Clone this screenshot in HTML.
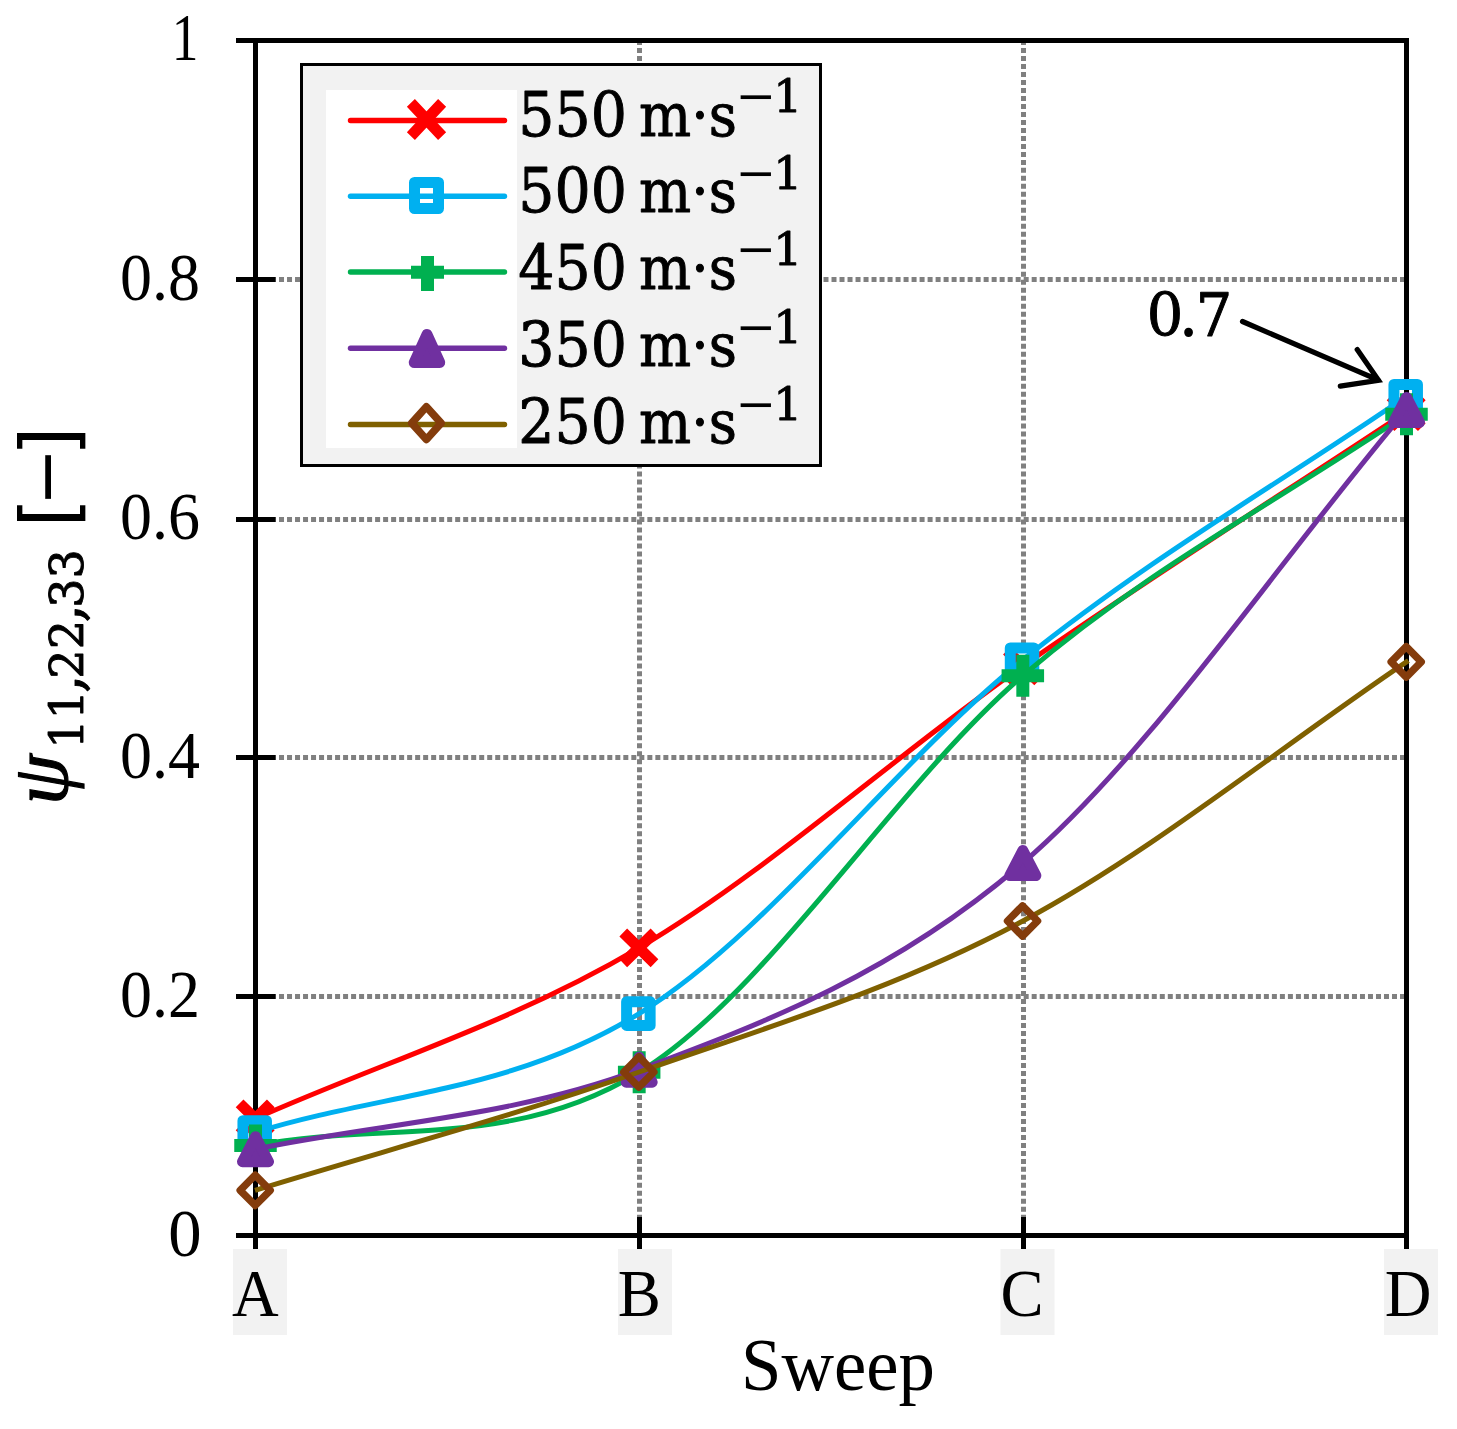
<!DOCTYPE html>
<html lang="en"><head><meta charset="utf-8"><title>Sweep chart</title>
<style>html,body{margin:0;padding:0;background:#fff}svg{display:block}</style></head><body>
<svg width="1457" height="1429" viewBox="0 0 1457 1429">
<rect width="1457" height="1429" fill="#fff"/>
<path d="M255,996.5H1406M255,757.5H1406M255,519.5H1406M255,279.5H1406" stroke="#808080" stroke-width="5" stroke-dasharray="5 3.007" fill="none"/>
<path d="M639.5,40V1235M1023.5,40V1235" stroke="#808080" stroke-width="5" stroke-dasharray="5 2.992" fill="none"/>
<path d="M236,40.5H1409M236,1235.5H1409M255.5,38V1255M1406.5,38V1255M236,996.5H275.5M236,757.5H275.5M236,519.5H275.5M236,279.5H275.5M639.5,1217V1255M1023.5,1217V1255" stroke="#000" stroke-width="5" fill="none"/>
<rect x="233" y="1249" width="54" height="86" fill="#F2F2F2"/>
<rect x="618" y="1249" width="54" height="86" fill="#F2F2F2"/>
<rect x="1000.5" y="1249" width="54" height="86" fill="#F2F2F2"/>
<rect x="1384" y="1249" width="54" height="86" fill="#F2F2F2"/>
<path d="M255.00,1118.80 C383.39,1061.83 511.28,1023.37 639.17,947.90 C767.06,872.43 894.94,755.35 1022.83,666.00 C1150.72,576.65 1278.61,496.53 1406.50,411.80 l1.92,-1.27" stroke="#FF0000" stroke-width="5" fill="none" stroke-linecap="butt" stroke-linejoin="round"/>
<path d="M239.59,1103.44L270.81,1134.16M239.59,1134.16L270.81,1103.44" stroke="#FF0000" stroke-width="11" fill="none"/>
<path d="M623.26,932.54L654.48,963.26M623.26,963.26L654.48,932.54" stroke="#FF0000" stroke-width="11" fill="none"/>
<path d="M1006.92,650.64L1038.14,681.36M1006.92,681.36L1038.14,650.64" stroke="#FF0000" stroke-width="11" fill="none"/>
<path d="M1390.59,396.44L1421.81,427.16M1390.59,427.16L1421.81,396.44" stroke="#FF0000" stroke-width="11" fill="none"/>
<path d="M255.00,1132.50 C383.39,1092.87 511.28,1092.38 639.17,1013.60 C767.06,934.82 894.94,762.68 1022.83,659.80 C1150.72,556.92 1278.61,484.13 1406.50,396.30 l1.90,-1.30" stroke="#00B0F0" stroke-width="5" fill="none" stroke-linecap="butt" stroke-linejoin="round"/>
<rect x="242.95" y="1120.65" width="23.50" height="23.70" stroke="#00B0F0" stroke-width="11" fill="none" stroke-linejoin="round" stroke-miterlimit="1"/>
<rect x="626.62" y="1001.75" width="23.50" height="23.70" stroke="#00B0F0" stroke-width="11" fill="none" stroke-linejoin="round" stroke-miterlimit="1"/>
<rect x="1010.28" y="647.95" width="23.50" height="23.70" stroke="#00B0F0" stroke-width="11" fill="none" stroke-linejoin="round" stroke-miterlimit="1"/>
<rect x="1393.95" y="384.45" width="23.50" height="23.70" stroke="#00B0F0" stroke-width="11" fill="none" stroke-linejoin="round" stroke-miterlimit="1"/>
<path d="M255.00,1145.50 C383.39,1121.10 511.28,1150.60 639.17,1072.30 C767.06,994.00 894.94,785.37 1022.83,675.70 C1150.72,566.03 1278.61,501.43 1406.50,414.30 l1.90,-1.30" stroke="#00B050" stroke-width="5" fill="none" stroke-linecap="butt" stroke-linejoin="round"/>
<path d="M234.25,1145.50H276.75M255.50,1124.50V1166.50" stroke="#00B050" stroke-width="13" fill="none"/>
<path d="M617.92,1072.30H660.42M639.17,1051.30V1093.30" stroke="#00B050" stroke-width="13" fill="none"/>
<path d="M1001.58,675.70H1044.08M1022.83,654.70V696.70" stroke="#00B050" stroke-width="13" fill="none"/>
<path d="M1385.25,414.30H1427.75M1406.50,393.30V435.30" stroke="#00B050" stroke-width="13" fill="none"/>
<path d="M255.00,1149.20 C383.39,1122.70 511.28,1117.40 639.17,1069.70 C767.06,1022.00 894.94,972.97 1022.83,863.00 C1150.72,753.03 1278.61,560.93 1406.50,409.90 l1.49,-1.76" stroke="#7030A0" stroke-width="5" fill="none" stroke-linecap="butt" stroke-linejoin="round"/>
<path d="M255.50,1136.70L268.50,1161.70L242.50,1161.70Z" stroke="#7030A0" stroke-width="11" fill="#7030A0" stroke-linejoin="round"/>
<path d="M639.17,1057.20L652.17,1082.20L626.17,1082.20Z" stroke="#7030A0" stroke-width="11" fill="#7030A0" stroke-linejoin="round"/>
<path d="M1022.83,850.50L1035.83,875.50L1009.83,875.50Z" stroke="#7030A0" stroke-width="11" fill="#7030A0" stroke-linejoin="round"/>
<path d="M1406.50,397.40L1419.50,422.40L1393.50,422.40Z" stroke="#7030A0" stroke-width="11" fill="#7030A0" stroke-linejoin="round"/>
<path d="M255.00,1190.30 C383.39,1150.87 511.28,1116.88 639.17,1072.00 C767.06,1027.12 894.94,989.35 1022.83,921.00 C1150.72,852.65 1278.61,748.27 1406.50,661.90 l1.91,-1.29" stroke="#7F6000" stroke-width="5" fill="none" stroke-linecap="butt" stroke-linejoin="round"/>
<path d="M255.20,1175.10L270.25,1190.30L255.20,1205.50L240.15,1190.30Z" stroke="#843C0C" stroke-width="7.4" fill="none" stroke-linejoin="round"/>
<path d="M638.87,1056.80L653.92,1072.00L638.87,1087.20L623.82,1072.00Z" stroke="#843C0C" stroke-width="7.4" fill="none" stroke-linejoin="round"/>
<path d="M1022.53,905.80L1037.58,921.00L1022.53,936.20L1007.48,921.00Z" stroke="#843C0C" stroke-width="7.4" fill="none" stroke-linejoin="round"/>
<path d="M1406.20,646.70L1421.25,661.90L1406.20,677.10L1391.15,661.90Z" stroke="#843C0C" stroke-width="7.4" fill="none" stroke-linejoin="round"/>
<rect x="301.5" y="64.5" width="519" height="401" fill="#F2F2F2" stroke="#000" stroke-width="3"/>
<rect x="326" y="90" width="191" height="358" fill="#fff"/>
<path d="M350.5,120.5H504.5" stroke="#FF0000" stroke-width="5.4" stroke-linecap="round" fill="none"/>
<path d="M350.5,196.2H504.5" stroke="#00B0F0" stroke-width="5.4" stroke-linecap="round" fill="none"/>
<path d="M350.5,272H504.5" stroke="#00B050" stroke-width="5.4" stroke-linecap="round" fill="none"/>
<path d="M350.5,348.3H504.5" stroke="#7030A0" stroke-width="5.4" stroke-linecap="round" fill="none"/>
<path d="M350.5,424.5H504.5" stroke="#7F6000" stroke-width="5.4" stroke-linecap="round" fill="none"/>
<path d="M410.89,102.89L442.11,136.11M410.89,136.11L442.11,102.89" stroke="#FF0000" stroke-width="11" fill="none"/>
<rect x="414.50" y="182.50" width="24.00" height="26.00" stroke="#00B0F0" stroke-width="11" fill="none" stroke-linejoin="round" stroke-miterlimit="1"/>
<path d="M411.00,272.30H444.00M427.50,256.00V291.00" stroke="#00B050" stroke-width="13" fill="none"/>
<path d="M427.00,334.50L439.75,362.50L414.25,362.50Z" stroke="#7030A0" stroke-width="11" fill="#7030A0" stroke-linejoin="round"/>
<path d="M426.40,406.75L441.10,423.10L426.40,439.45L411.70,423.10Z" stroke="#843C0C" stroke-width="7.6" fill="none" stroke-linejoin="round"/>
<g fill="#000">
<text font-family="Liberation Serif, serif" font-size="66.67" text-anchor="end" transform="translate(201.6,1255.5) scale(1.0,1)">0</text>
<text font-family="Liberation Serif, serif" font-size="66.67" text-anchor="end" transform="translate(200.0,1016.5) scale(0.96,1)">0.2</text>
<text font-family="Liberation Serif, serif" font-size="66.67" text-anchor="end" transform="translate(200.0,777.5) scale(0.96,1)">0.4</text>
<text font-family="Liberation Serif, serif" font-size="66.67" text-anchor="end" transform="translate(200.0,538.5) scale(0.96,1)">0.6</text>
<text font-family="Liberation Serif, serif" font-size="66.67" text-anchor="end" transform="translate(200.0,299.5) scale(0.96,1)">0.8</text>
<text font-family="Liberation Serif, serif" font-size="66.67" text-anchor="end" transform="translate(198.5,60.1) scale(0.8,1)">1</text>
<text font-family="Liberation Serif, serif" font-size="66.67" transform="translate(232,1316) scale(0.97,1)">A</text>
<text font-family="Liberation Serif, serif" font-size="66.67" transform="translate(617.7,1316) scale(0.97,1)">B</text>
<text font-family="Liberation Serif, serif" font-size="66.67" transform="translate(1000.6,1316) scale(0.97,1)">C</text>
<text font-family="Liberation Serif, serif" font-size="66.67" transform="translate(1384.7,1316) scale(0.97,1)">D</text>
<text font-family="Liberation Serif, serif" font-size="73.33" transform="translate(741,1390.3) scale(0.992,1)">Sweep</text>
<text font-family="DejaVu Serif Condensed, DejaVu Serif, serif" fill="#000" stroke="#000" stroke-width="0.9" stroke-linejoin="round" transform="scale(1.03,1)"><tspan font-size="61.41" x="503.28" y="135.6">550 </tspan><tspan font-size="59.34" x="620.45" y="135.6">m·s</tspan><tspan font-family="DejaVu Serif, serif" font-size="47.04" x="714.09" y="112.5" stroke="none">−</tspan><tspan font-family="DejaVu Serif, serif" font-size="44.31" x="750.64" y="112.2">1</tspan></text>
<text font-family="DejaVu Serif Condensed, DejaVu Serif, serif" fill="#000" stroke="#000" stroke-width="0.9" stroke-linejoin="round" transform="scale(1.03,1)"><tspan font-size="61.41" x="503.28" y="212.0">500 </tspan><tspan font-size="59.34" x="620.45" y="212.0">m·s</tspan><tspan font-family="DejaVu Serif, serif" font-size="47.04" x="714.09" y="188.9" stroke="none">−</tspan><tspan font-family="DejaVu Serif, serif" font-size="44.31" x="750.64" y="188.6">1</tspan></text>
<text font-family="DejaVu Serif Condensed, DejaVu Serif, serif" fill="#000" stroke="#000" stroke-width="0.9" stroke-linejoin="round" transform="scale(1.03,1)"><tspan font-size="61.41" x="503.28" y="288.6">450 </tspan><tspan font-size="59.34" x="620.45" y="288.6">m·s</tspan><tspan font-family="DejaVu Serif, serif" font-size="47.04" x="714.09" y="265.5" stroke="none">−</tspan><tspan font-family="DejaVu Serif, serif" font-size="44.31" x="750.64" y="265.2">1</tspan></text>
<text font-family="DejaVu Serif Condensed, DejaVu Serif, serif" fill="#000" stroke="#000" stroke-width="0.9" stroke-linejoin="round" transform="scale(1.03,1)"><tspan font-size="61.41" x="503.28" y="366.0">350 </tspan><tspan font-size="59.34" x="620.45" y="366.0">m·s</tspan><tspan font-family="DejaVu Serif, serif" font-size="47.04" x="714.09" y="342.9" stroke="none">−</tspan><tspan font-family="DejaVu Serif, serif" font-size="44.31" x="750.64" y="342.6">1</tspan></text>
<text font-family="DejaVu Serif Condensed, DejaVu Serif, serif" fill="#000" stroke="#000" stroke-width="0.9" stroke-linejoin="round" transform="scale(1.03,1)"><tspan font-size="61.41" x="503.28" y="443.0">250 </tspan><tspan font-size="59.34" x="620.45" y="443.0">m·s</tspan><tspan font-family="DejaVu Serif, serif" font-size="47.04" x="714.09" y="419.9" stroke="none">−</tspan><tspan font-family="DejaVu Serif, serif" font-size="44.31" x="750.64" y="419.6">1</tspan></text>
<text font-family="DejaVu Serif Condensed, DejaVu Serif, serif" fill="#000" stroke="#000" stroke-width="0.9" stroke-linejoin="round" transform="scale(1.06,1)"><tspan font-size="60.2" x="1081.82" y="335.6">0</tspan><tspan font-size="71.3" x="1111.17" y="335.8" stroke="none">.</tspan><tspan font-size="60.2" x="1128.13" y="335.8">7</tspan></text>
</g>
<path d="M1242.5,321.5L1378.5,380.2M1357.2,349.6L1378.5,380.2L1340.3,386.1" stroke="#000" stroke-width="5.2" fill="none" stroke-linecap="round" stroke-linejoin="miter"/>
<text transform="rotate(-90)" fill="#000"><tspan font-family="Liberation Serif, serif" font-style="italic" font-size="81.35" x="-805.07" y="66.71" stroke="#000" stroke-width="1.2">ψ</tspan><tspan font-family="DejaVu Serif, serif" font-size="46.06" x="-748.7" y="83.2" stroke="#000" stroke-width="0.9" stroke-linejoin="round">11</tspan><tspan font-family="DejaVu Serif, serif" font-size="58.99" x="-692.89" y="81.99" stroke="#000" stroke-width="0.9" stroke-linejoin="round">,</tspan><tspan font-family="DejaVu Serif, serif" font-size="46.06" x="-678.67" y="83.2" stroke="#000" stroke-width="0.9" stroke-linejoin="round">22</tspan><tspan font-family="DejaVu Serif, serif" font-size="58.99" x="-622.39" y="81.99" stroke="#000" stroke-width="0.9" stroke-linejoin="round">,</tspan><tspan font-family="DejaVu Serif, serif" font-size="46.06" x="-607.81" y="83.2" stroke="#000" stroke-width="0.9" stroke-linejoin="round">33 </tspan><tspan font-family="DejaVu Sans, sans-serif" font-size="76.19" x="-527.38" y="74.9">[</tspan><tspan font-family="DejaVu Sans, sans-serif" font-size="69.8" x="-506.23" y="69.85">−</tspan><tspan font-family="DejaVu Sans, sans-serif" font-size="76.19" x="-456.28" y="74.9">]</tspan></text>
</svg></body></html>
